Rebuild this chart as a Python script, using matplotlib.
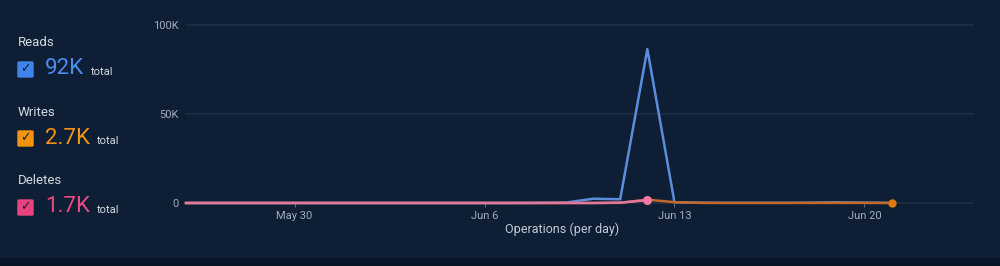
import numpy as np
import pandas as pd
import matplotlib
matplotlib.use("Agg")
import matplotlib.pyplot as plt
import matplotlib.dates as mdates
from matplotlib.patches import FancyBboxPatch

plt.rcParams["font.family"] = ["Roboto", "DejaVu Sans"]

# daily operation counts
days = pd.date_range("2023-05-26", "2023-06-21", freq="D")
reads = [0, 0, 0, 0, 0, 0, 0, 0, 0, 0, 0, 0, 0, 100,
         250, 2400, 2100, 86500, 400, 150, 100, 100, 100, 150, 400, 200, 50]
writes = [0, 0, 0, 0, 0, 0, 0, 0, 0, 0, 0, 0, 0, 0,
          0, 0, 100, 1900, 450, 60, 30, 30, 30, 30, 60, 40, 20]
delete_days = days[:18]
deletes = [20, 20, 20, 20, 20, 20, 20, 20, 20, 20, 20, 20, 20, 20,
           20, 20, 200, 1600]

legend_names = ["Reads", "Writes", "Deletes"]
legend_totals = ["92K", "2.7K", "1.7K"]

y_ticks = [0, 50000, 100000]
y_labels = ["0", "50K", "100K"]
x_ticks = pd.to_datetime(["2023-05-30", "2023-06-06", "2023-06-13", "2023-06-20"])
x_labels = ["May 30", "Jun 6", "Jun 13", "Jun 20"]

bg = "#0e1f35"
blue_line = "#5a8ddb"
orange_line = "#c46a26"
pink_line = "#e2779f"
box_colors = ["#3f84ea", "#f4930f", "#e8437c"]
text_colors = ["#4c8cf0", "#f4930f", "#ea4a82"]

fig = plt.figure(figsize=(10, 2.66), dpi=100)
fig.patch.set_facecolor(bg)

# darker strip at the bottom
fig.add_artist(plt.Rectangle((0, 0), 1, 8 / 266, transform=fig.transFigure,
                             color="#081526", zorder=0))

ax = fig.add_axes([0.186, 1 - 203 / 266, 0.787, 178 / 266])
ax.set_facecolor(bg)
ax.set_xlim(pd.Timestamp("2023-05-26"), pd.Timestamp("2023-06-24"))
ax.set_ylim(0, 100000)
for s in ax.spines.values():
    s.set_visible(False)

for v in y_ticks:
    ax.axhline(v, color="#1f2e42", lw=1.2, zorder=0, clip_on=False)

ax.plot(days, reads, color=blue_line, lw=1.8, clip_on=False, zorder=2)
ax.plot(days, writes, color=orange_line, lw=1.8, clip_on=False, zorder=3)
ax.plot(delete_days, deletes, color=pink_line, lw=1.8, clip_on=False, zorder=4)
ax.plot(delete_days[-1:], deletes[-1:], "o", color="#f07aa5", ms=5.5,
        clip_on=False, zorder=5)
ax.plot(days[-1:], writes[-1:], "o", color="#e0780f", ms=5, clip_on=False, zorder=5)

ax.set_yticks(y_ticks)
ax.set_yticklabels(y_labels)
ax.set_xticks(x_ticks)
ax.set_xticklabels(x_labels)
ax.tick_params(axis="y", length=0, pad=5, labelsize=8, labelcolor="#a3adba")
ax.tick_params(axis="x", length=3, width=0.8, color="#5d6b7c", pad=3,
               labelsize=8, labelcolor="#a3adba")
ax.set_xlabel("Operations (per day)", color="#c3cad4", fontsize=9)
ax.xaxis.set_label_coords(0.478, -0.11)

# legend column on the left
name_y = [43, 112, 181]
for i in range(3):
    y0 = name_y[i]
    fig.text(18 / 1000, 1 - y0 / 266, legend_names[i], color="#d3d9e0",
             fontsize=9.5, va="center", ha="left")
    cy = y0 + 26
    box = FancyBboxPatch((18 / 1000, 1 - (cy + 8) / 266), 15 / 1000, 15 / 266,
                         boxstyle="round,pad=0,rounding_size=0.002",
                         transform=fig.transFigure, color=box_colors[i])
    fig.add_artist(box)
    fig.text(25.5 / 1000, 1 - cy / 266, "\u2713", color=bg, fontsize=9,
             fontweight="bold", ha="center", va="center",
             family=["DejaVu Sans"])
    t = fig.text(45 / 1000, 1 - cy / 266, legend_totals[i], color=text_colors[i],
                 fontsize=16, va="center", ha="left")
    fig.canvas.draw()
    bb = t.get_window_extent()
    fig.text((bb.x1 + 7) / 1000, 1 - (cy + 3) / 266, "total", color="#d3d9e0",
             fontsize=8, va="center", ha="left")

fig.savefig("out.png", dpi=100, facecolor=bg)
